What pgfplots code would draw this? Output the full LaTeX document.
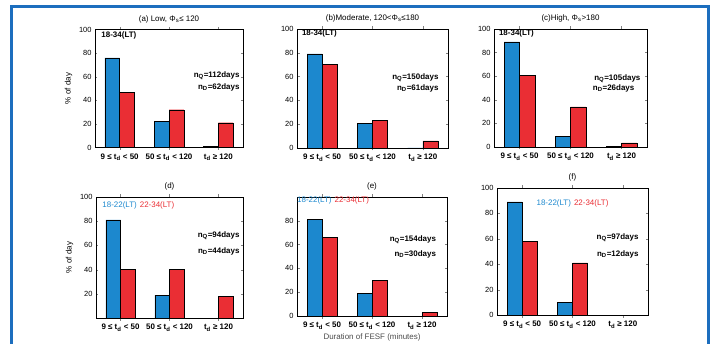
\documentclass[border=0pt]{standalone}
\usepackage{fontspec}
\setmainfont{Liberation Sans}
\usepackage{pgfplots}
\pgfplotsset{compat=1.18}
\definecolor{barblue}{RGB}{28,136,206}
\definecolor{barred}{RGB}{234,46,52}
\definecolor{frameblue}{RGB}{28,110,190}
\pgfplotsset{
  panel/.style={
    scale only axis, anchor=south west,
    ymin=0, ymax=100, xmin=0.5, xmax=3.5,
    xtick={1,2,3},
    xticklabels={{9 ≤ t\textsubscript{d} < 50},{50 ≤ t\textsubscript{d} < 120},{t\textsubscript{d} ≥ 120}},
    xticklabel style={font=\fontsize{8}{9}\selectfont\bfseries, inner xsep=0pt},
    yticklabel style={font=\fontsize{7.5}{9}\selectfont},
    ytick={0,20,40,60,80,100},
    tick align=inside,
    major tick length=2.5bp,
    ybar, bar width=0.3,
    font=\fontsize{8}{9}\selectfont,
    /pgf/number format/assume math mode=true,
    axis line style={line width=0.7bp},
    title style={yshift=-3bp, font=\fontsize{8}{9}\selectfont},
  },
  bb/.style={fill=barblue, draw=black, line width=0.4bp, bar shift=-0.15},
  br/.style={fill=barred, draw=black, line width=0.4bp, bar shift=0.15},
}
\newcommand{\nn}[2]{\textbf{n\textsubscript{#1}=#2days}}
\newcommand{\lt}{{\color{barblue}18-22(LT)}\hspace{3bp}{\color{barred}22-34(LT)}}
\begin{document}
\begin{tikzpicture}
\useasboundingbox (0,0) rectangle (712bp,344bp);
\draw[line width=3bp, frameblue] (11.5bp,-5bp) |- (708.5bp,337.5bp) -- (708.5bp,-5bp);

% (a)
\begin{axis}[panel, at={(95bp,196.5bp)}, width=148bp, height=118bp,
  title={(a) Low, Φ\textsubscript{s}≤ 120}, ylabel={\% of day}]
\addplot[bb] coordinates {(1,76) (2,22) (3,1)};
\addplot[br] coordinates {(1,47) (2,32) (3,21)};
\node[anchor=west, font=\fontsize{8}{9}\selectfont\bfseries] at (rel axis cs:0.02,0.95) {18-34(LT)};
\node[anchor=east] at (rel axis cs:1.0,0.61) {\nn{Q}{112}};
\node[anchor=east] at (rel axis cs:1.0,0.51) {\nn{D}{62}};
\end{axis}

% (b)
\begin{axis}[panel, at={(297bp,196bp)}, width=151bp, height=119bp,
  title={(b)Moderate, 120<Φ\textsubscript{s}≤180}]
\addplot[bb] coordinates {(1,79) (2,21) (3,0)};
\addplot[br] coordinates {(1,70) (2,23) (3,6)};
\node[anchor=west, font=\fontsize{8}{9}\selectfont\bfseries] at (rel axis cs:0.01,0.96) {18-34(LT)};
\node[anchor=east] at (rel axis cs:0.96,0.59) {\nn{Q}{150}};
\node[anchor=east] at (rel axis cs:0.96,0.50) {\nn{D}{61}};
\end{axis}

% (c)
\begin{axis}[panel, at={(494bp,197bp)}, width=153bp, height=118bp,
  title={(c)High, Φ\textsubscript{s}>180}]
\addplot[bb] coordinates {(1,89) (2,9) (3,0.5)};
\addplot[br] coordinates {(1,61) (2,34) (3,3.5)};
\node[anchor=west, font=\fontsize{8}{9}\selectfont\bfseries] at (rel axis cs:0.01,0.96) {18-34(LT)};
\node[anchor=east] at (rel axis cs:0.98,0.58) {\nn{Q}{105}};
\node[anchor=east] at (rel axis cs:0.94,0.50) {\nn{D}{26}};
\end{axis}

% (d)
\begin{axis}[panel, at={(96bp,26bp)}, width=147bp, height=121bp,
  title={(d)}, ylabel={\% of day}, ytick={20,40,60,80,100}]
\addplot[bb] coordinates {(1,81) (2,19) (3,0)};
\addplot[br] coordinates {(1,40) (2,40) (3,18)};
\node[anchor=west] at (rel axis cs:0.02,0.93) {\lt};
\node[anchor=east] at (rel axis cs:1.0,0.68) {\nn{Q}{94}};
\node[anchor=east] at (rel axis cs:1.0,0.55) {\nn{D}{44}};
\end{axis}

% (e)
\begin{axis}[panel, at={(297bp,28bp)}, width=150bp, height=119bp,
  title={(e)}, ytick={0,20,40,60,80},
  xlabel={Duration of FESF (minutes)}, xlabel style={text=black!70, yshift=2bp}]
\addplot[bb] coordinates {(1,81) (2,19) (3,0)};
\addplot[br] coordinates {(1,66) (2,30) (3,3)};
\node[anchor=west, inner xsep=0pt] at (rel axis cs:0.0,0.97) {\lt};
\node[anchor=east] at (rel axis cs:0.95,0.64) {\nn{Q}{154}};
\node[anchor=east] at (rel axis cs:0.95,0.52) {\nn{D}{30}};
\end{axis}

% (f)
\begin{axis}[panel, at={(497bp,29bp)}, width=151bp, height=127bp,
  title={(f)}]
\addplot[bb] coordinates {(1,89) (2,10) (3,0)};
\addplot[br] coordinates {(1,58) (2,41) (3,0)};
\node at (rel axis cs:0.5,0.88) {\lt};
\node[anchor=east] at (rel axis cs:0.96,0.61) {\nn{Q}{97}};
\node[anchor=east] at (rel axis cs:0.96,0.48) {\nn{D}{12}};
\end{axis}
\end{tikzpicture}
\end{document}
